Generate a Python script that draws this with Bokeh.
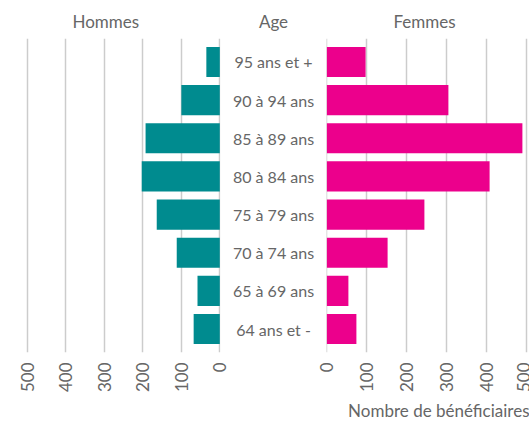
import math
from bokeh.plotting import figure
from bokeh.layouts import row
from bokeh.models import Range1d, FactorRange, Title, ColumnDataSource
from bokeh.core.properties import value
from bokeh.embed import file_html
from bokeh.resources import INLINE

# ---- data ----
ages = ["95 ans et +", "90 à 94 ans", "85 à 89 ans", "80 à 84 ans",
        "75 à 79 ans", "70 à 74 ans", "65 à 69 ans", "64 ans et -"]
hommes = [35, 100, 193, 203, 164, 112, 58, 68]
femmes = [97, 304, 489, 407, 244, 152, 54, 74]
ticks = [0, 100, 200, 300, 400, 500]

# ---- style ----
FONT = "Lato"
GREY = "#666666"
GRID = "#cccccc"
TEAL = "#008b8f"
PINK = "#ec008c"
FS = "17px"
FS_CAT = "16px"

TOP = 38
FRAME_H = 314

yr = FactorRange(factors=list(reversed(ages)), range_padding=0.116,
                 range_padding_units="absolute")
src = ColumnDataSource(dict(age=ages, h=hommes, f=femmes))


def make(frame_w, xr, title_text, align, offset, bl=0, br=0, bb=0,
         with_xaxis=True):
    p = figure(frame_width=frame_w, frame_height=FRAME_H, x_range=xr, y_range=yr,
               output_backend="svg", toolbar_location=None, tools="",
               y_axis_location=None,
               x_axis_location="below" if with_xaxis else None,
               min_border_left=bl, min_border_right=br,
               min_border_top=TOP, min_border_bottom=bb,
               outline_line_color=None, title=title_text)
    p.title.align = align
    p.title.offset = offset
    p.title.text_font = FONT
    p.title.text_font_size = FS
    p.title.text_font_style = "normal"
    p.title.text_color = GREY
    p.title.standoff = 13
    p.ygrid.visible = False
    if with_xaxis:
        ax = p.xaxis[0]
        ax.ticker = ticks
        ax.axis_line_color = None
        ax.major_tick_line_color = None
        ax.minor_tick_line_color = None
        ax.major_tick_out = 0
        ax.major_tick_in = 0
        ax.major_label_orientation = math.pi / 2
        ax.major_label_text_font = FONT
        ax.major_label_text_font_size = FS
        ax.major_label_text_color = GREY
        ax.major_label_standoff = 10
        g = p.xgrid[0]
        g.ticker = ticks
        g.grid_line_color = GRID
        g.grid_line_width = 1.5
    else:
        p.xgrid.visible = False
    return p


left = make(220, Range1d(570.2, -1.8), "Hommes", "left", 72, br=11)
left.hbar(y="age", left="h", right=0, height=0.79, source=src,
          fill_color=TEAL, line_color=None)

mid = make(84, Range1d(-1, 1), "Age", "center", 0, with_xaxis=False)
mid.text(x=0, y="age", text="age", source=src, text_align="center",
         text_baseline="middle", text_font=value(FONT), text_font_size=FS_CAT,
         text_color=GREY)

right = make(203, Range1d(-0.75, 506.75), "Femmes", "left", 67, bl=11)
right.hbar(y="age", left=0, right="f", height=0.79, source=src,
           fill_color=PINK, line_color=None)
right.add_layout(Title(text="Nombre de bénéficiaires", align="right", offset=0,
                       standoff=5, text_font=FONT, text_font_size=FS,
                       text_font_style="normal", text_color=GREY), "below")

layout = row(left, mid, right)
open("out.html", "w").write(file_html(layout, INLINE))
